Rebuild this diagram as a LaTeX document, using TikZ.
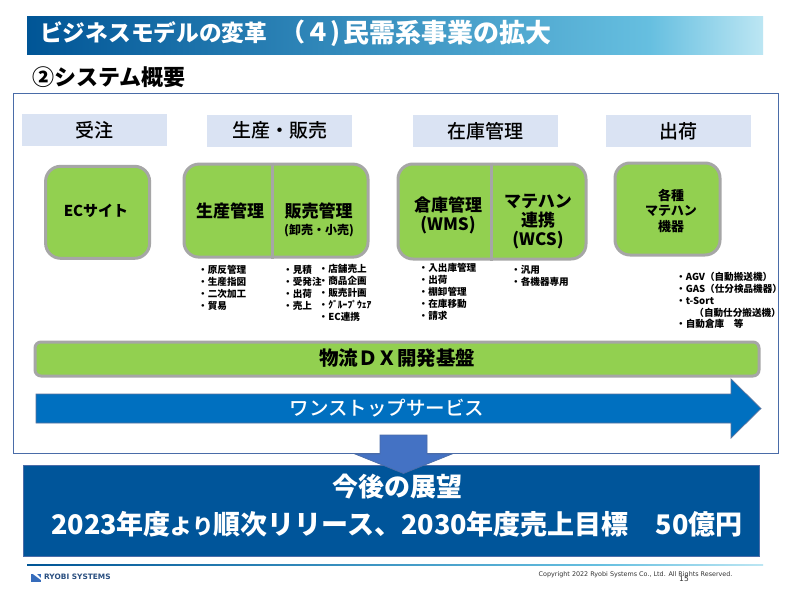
\documentclass[tikz,border=0pt]{standalone}
\usepackage{fontspec}
\setmainfont{Noto Sans CJK JP}
\newfontfamily\med{Noto Sans CJK JP Medium}
\newfontfamily\vd{DejaVu Sans}
\usetikzlibrary{backgrounds}
\definecolor{gfill}{HTML}{92D050}
\definecolor{ggray}{HTML}{A6A6A6}
\definecolor{pillarc}{HTML}{70AD47}
\definecolor{headc}{HTML}{DAE3F3}
\definecolor{framec}{HTML}{4A6CA8}
\definecolor{flowc}{HTML}{0070C0}
\definecolor{darkc}{HTML}{00559A}
\definecolor{downc}{HTML}{4472C4}
\definecolor{t1}{HTML}{005596}
\definecolor{t2}{HTML}{66BFE0}
\definecolor{t3}{HTML}{BCE6F3}
\definecolor{logoc}{HTML}{2A4F80}
\newcommand{\fs}[1]{\fontsize{#1}{#1}\selectfont}
\tikzset{
 x=1pt,y=-1pt,
 headbox/.style={fill=headc,draw=none,minimum width=145,minimum height=32,inner sep=0,text=black,font=\med\fs{19}},
 gbox/.style={fill=gfill,draw=ggray,line width=3,rounded corners=15,inner sep=0,text=black},
 split/.style={draw=ggray,line width=3},
 pillar/.style={draw=pillarc,line width=12.7},
 btxt/.style={inner sep=0,text=black,font=\bfseries\fs{17},align=center},
 small/.style={inner sep=0,anchor=west,text=black,font=\bfseries\fs{9.6}},
}
\begin{document}
\begin{tikzpicture}
\useasboundingbox (0,0) rectangle (800,589);
\fill[white] (0,0) rectangle (800,589);
% title
\shade[left color=t1,right color=t2,shading angle=90] (27,16) rectangle (650,54);
\shade[left color=t2,right color=t3] (649.5,16) rectangle (763,54);
\node[inner sep=0,anchor=west,text=white,font=\bfseries\fs{22.7}] (title) at (40,33) {ビジネスモデルの変革};
\node[inner sep=0,anchor=west,text=white,font=\bfseries\fs{25}] (titlenum) at (280,33) {（４)};
\node[inner sep=0,anchor=west,text=white,font=\bfseries\fs{26}] (title2) at (343,33) {民需系事業の拡大};
\node[inner sep=0,anchor=west,text=black,font=\bfseries\fs{22}] (sub) at (32,77) {②システム概要};
% frame
\draw[framec,line width=1] (13,93) rectangle (778,453);
% headers
\node[headbox] (h1) at (94.5,130) {受注};
\node[headbox] (h2) at (279.5,130.5) {生産・販売};
\node[headbox] (h3) at (485,131) {在庫管理};
\node[headbox] (h4) at (678.5,131) {出荷};
% green boxes
\node[gbox,minimum width=104,minimum height=92] (ec) at (97.6,212.3) {};
\node[gbox,minimum width=184,minimum height=93] (sales) at (276,210.6) {};
\node[gbox,minimum width=188,minimum height=95] (stock) at (492,211.5) {};
\node[gbox,minimum width=105,minimum height=92] (equip) at (667.5,209) {};
\node[fill=gfill,draw=ggray,line width=3,rounded corners=6,inner sep=0,minimum width=724,minimum height=34] (base) at (397,359) {};
\coordinate (d1) at (272,200);
\coordinate (d2) at (491.5,200);
\draw[split] (sales.north -| d1) -- (sales.south -| d1);
\draw[split] (stock.north -| d2) -- (stock.south -| d2);
\coordinate (p1) at (94.3,300);
\coordinate (p2) at (272,300);
\coordinate (p3) at (493.7,300);
\coordinate (p4) at (667,300);
\begin{pgfonlayer}{background}
\draw[pillar] (ec.south -| p1) -- (base.north -| p1);
\draw[pillar] (sales.south -| p2) -- (base.north -| p2);
\draw[pillar] (stock.south -| p3) -- (base.north -| p3);
\draw[pillar] (equip.south -| p4) -- (base.north -| p4);
\end{pgfonlayer}
% box labels
\node[btxt,font=\bfseries\fs{15}] (t1n) at (96,211) {ECサイト};
\node[btxt] (t2n) at (230,211) {生産管理};
\node[btxt] (t3n) at (318.5,211) {販売管理};
\node[btxt,font=\bfseries\fs{12}] (t3s) at (319,231) {(卸売・小売)};
\node[btxt] (t4n) at (448,205) {倉庫管理};
\node[btxt] (t4s) at (448,225) {(WMS)};
\node[btxt] (t5a) at (538,202) {マテハン};
\node[btxt] (t5b) at (538,220.5) {連携};
\node[btxt] (t5c) at (538,240) {(WCS)};
\node[btxt,font=\bfseries\fs{13}] (t6a) at (671,195) {各種};
\node[btxt,font=\bfseries\fs{13}] (t6b) at (671,211) {マテハン};
\node[btxt,font=\bfseries\fs{13}] (t6c) at (671,227) {機器};
\node[btxt,font=\bfseries\fs{19.5}] (t7) at (397,358) {物流ＤＸ開発基盤};
% lists
\foreach \n/\t/\y in {a/原反管理/270,b/生産指図/282,c/二次加工/294,d/貿易/306}
  \node[small] (l1\n) at (198,\y) {・\t};
\foreach \n/\t/\y in {a/見積/270,b/受発注/282,c/出荷/294,d/売上/306}
  \node[small] (l2\n) at (283,\y) {・\t};
\foreach \n/\t/\y in {a/店舗売上/269,b/商品企画/281,c/販売計画/293,d/ｸﾞﾙｰﾌﾟｳｪｱ/305,e/EC連携/317}
  \node[small] (l3\n) at (318.5,\y) {・\t};
\foreach \n/\t/\y in {a/入出庫管理/268,b/出荷/280,c/棚卸管理/292,d/在庫移動/304,e/請求/316}
  \node[small] (l4\n) at (418.5,\y) {・\t};
\foreach \n/\t/\y in {a/汎用/270,b/各機器専用/282}
  \node[small] (l5\n) at (511,\y) {・\t};
\foreach \n/\t/\y in {a/AGV（自動搬送機）/277,b/GAS（仕分検品機器）/289,c/t-Sort/301,e/自動倉庫　等/324}
  \node[small] (l6\n) at (676,\y) {・\t};
\node[small,anchor=east] (l6d) at (781,312.5) {（自動仕分搬送機）};
% flow arrow
\draw[fill=flowc,draw=framec!70!gray,line width=.7] (36,394) -- (731,394) -- (731,379) -- (761,408.5) -- (731,438) -- (731,423) -- (36,423) -- cycle;
\node[inner sep=0,text=white,font=\med\fs{19.5}] (flow) at (387,408) {ワンストップサービス};
% result box and down arrow
\node[fill=darkc,draw=framec,line width=.5,inner sep=0,minimum width=736.5,minimum height=91] (res) at (391.25,511) {};
\draw[fill=downc,draw=framec,line width=.7] (380,435) -- (427,435) -- (427,454) -- (452,454) -- (403.5,473.5) -- (355,454) -- (380,454) -- cycle;
\node[inner sep=0,text=white,font=\bfseries\fs{26}] (r1) at (397.5,487) {今後の展望};
\node[inner sep=0,anchor=west,text=white,font=\bfseries\fs{27}] (r2) at (51,524) {2023年度{\fs{21.5}より}順次リリース、2030年度売上目標　50億円};
% footer
\shade[left color=t1,right color=t2] (27,564) rectangle (600,565.4);
\shade[left color=t2,right color=t3] (599.5,564) rectangle (763,565.4);
\fill[downc!80!t1] (31,574) rectangle (41,581.5);
\fill[white] (33,574) -- (37,574) -- (41,578) -- (41,580) -- cycle;
\node[inner sep=0,anchor=west,text=logoc,font=\vd\bfseries\fs{7.4}] (logo) at (44,577) {RYOBI SYSTEMS};
\node[inner sep=0,anchor=west,text=black!80,font=\vd\fs{6.4}] (copy) at (538.5,575) {Copyright 2022 Ryobi Systems Co., Ltd. All Rights Reserved.};
\node[inner sep=0,text=black!80,font=\vd\fs{7.5}] (page) at (684,578.5) {15};
\end{tikzpicture}
\end{document}
